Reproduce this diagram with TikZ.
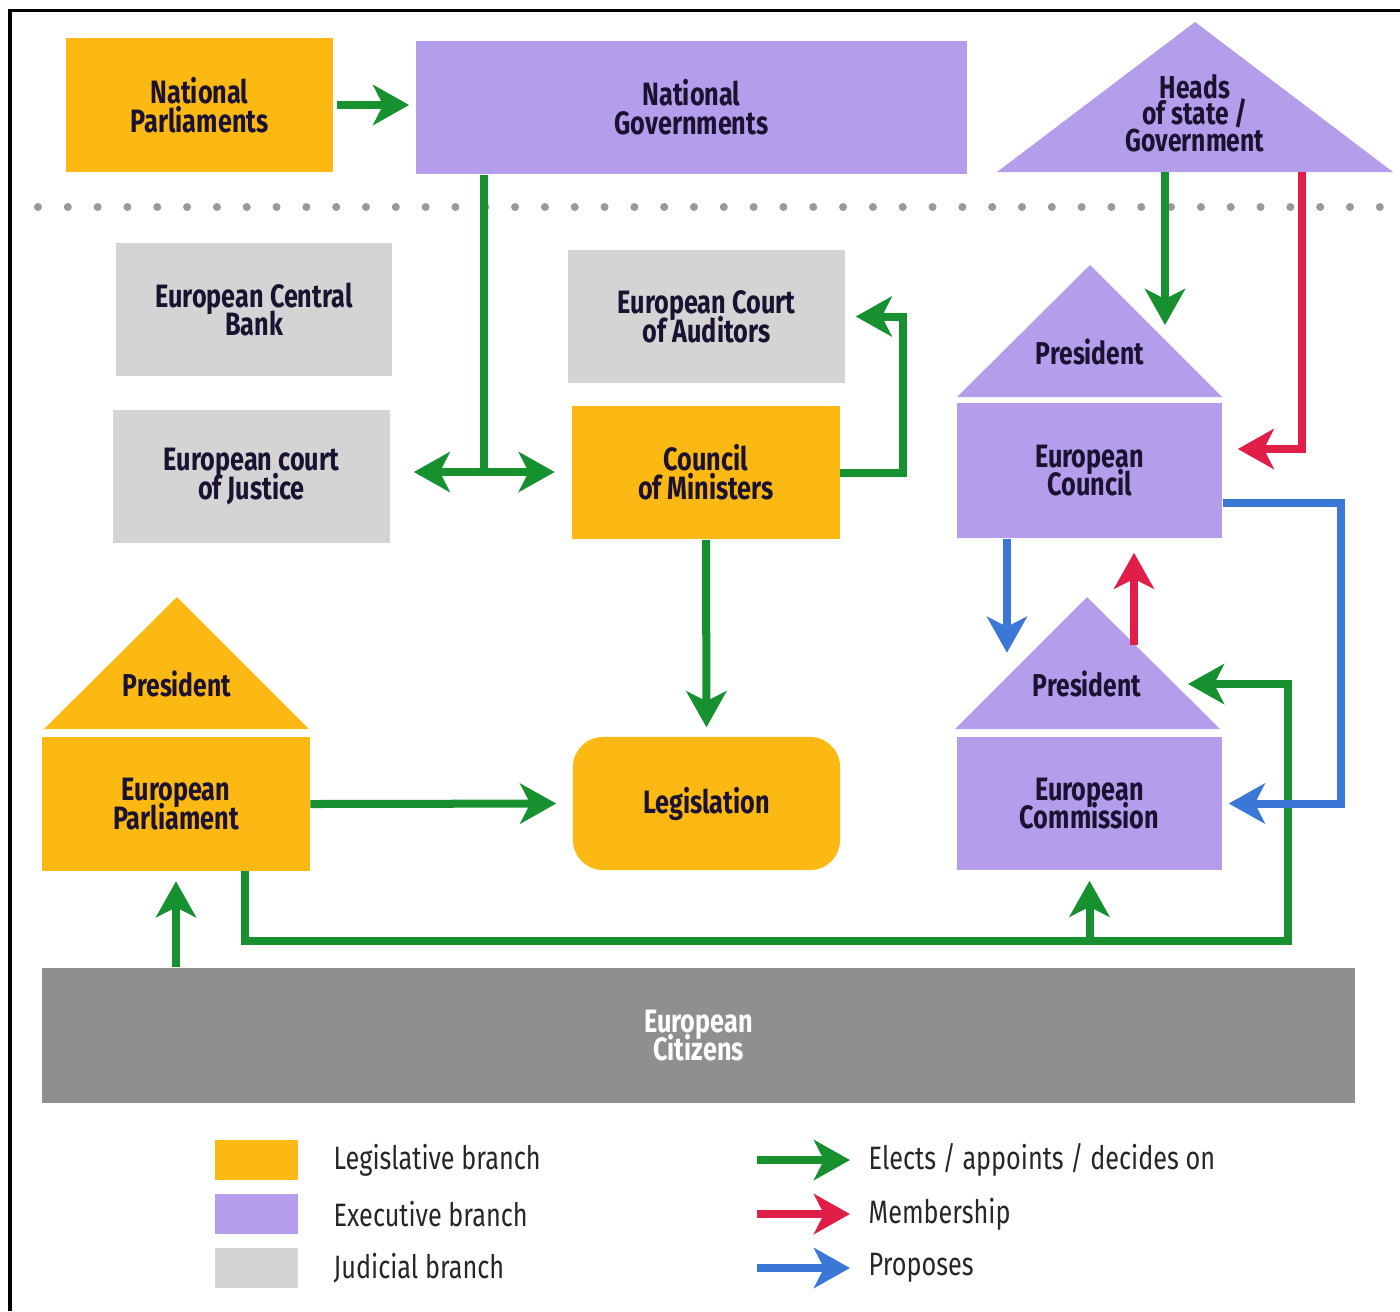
\documentclass[tikz,border=0pt]{standalone}
\usepackage{fontspec}
\setmainfont{Fira Sans}[FakeStretch=0.78]
\usepackage{xcolor}
\usepackage{tikz}
\usetikzlibrary{arrows.meta}
\definecolor{legisorange}{HTML}{FDB913}
\definecolor{execpurple}{HTML}{B49DEB}
\definecolor{judicgray}{HTML}{D4D4D4}
\definecolor{citizengray}{HTML}{8F8F8F}
\definecolor{electgreen}{HTML}{17902F}
\definecolor{memberred}{HTML}{E01E48}
\definecolor{proposeblue}{HTML}{3B78D6}
\definecolor{boxtext}{HTML}{1A1230}
\newcommand\boxfont{\fontsize{9.2}{8.2}\selectfont\bfseries\lineskiplimit=-10pt\relax}
\newcommand\trifont{\fontsize{9}{7.6}\selectfont\bfseries\lineskiplimit=-10pt\relax}
\tikzstyle{box} = [rectangle, minimum width=2.67cm, minimum height=1.33cm, inner sep=0pt, align=center, text=boxtext, font=\boxfont]
\tikzstyle{legis} = [box, fill=legisorange]
\tikzstyle{exec} = [box, fill=execpurple]
\tikzstyle{judic} = [box, fill=judicgray]
\tikzstyle{tritext} = [inner sep=0pt, align=center, text=boxtext, font=\trifont]
\tikzstyle{keytext} = [inner sep=0pt, anchor=west, text=black!85, font=\fontsize{9.2}{11}\selectfont]
\tikzstyle{conn} = [line width=0.08cm, ->]
\tikzstyle{elect} = [conn, draw=electgreen]
\tikzstyle{member} = [conn, draw=memberred]
\tikzstyle{propose} = [conn, draw=proposeblue]

\begin{document}
\begin{tikzpicture}[x=0.01cm, y=-0.01cm, >={Stealth[length=0.36cm, width=0.4cm, inset=0.1cm]}]
   \useasboundingbox (0,0) rectangle (1400,1311);
   \draw [line width=0.03cm] (10,1311) -- (10,10) -- (1400,10);

   % national level
   \node (natparl) [legis] at (199.5,105) {National\\Parliaments};
   \node (natgov) [exec, minimum width=5.51cm] at (691.5,107.5) {National\\Governments};
   \fill [execpurple] (997,172) -- (1195,22) -- (1393,172) -- cycle;
   \node (heads) [tritext] at (1195,113) {Heads\\of state /\\Government};
   \draw [black!40, line width=0.08cm, line cap=round, dash pattern=on 0pt off 0.298cm] (38,207) -- (1380,207);

   % union level
   \node (ecb) [judic, minimum width=2.76cm] at (254,309.5) {European Central\\Bank};
   \node (ecj) [judic, minimum width=2.77cm] at (251.5,476.5) {European court\\of Justice};
   \node (auditors) [judic, minimum width=2.77cm] at (706.5,316.5) {European Court\\of Auditors};
   \node (council) [legis] at (706,472.5) {Council\\of Ministers};
   \node (legislation) [legis, rounded corners=0.3cm] at (706.5,803.5) {Legislation};
   \node (parliament) [legis] at (176,804) {European\\Parliament};
   \node (eucouncil) [exec, minimum width=2.65cm, minimum height=1.35cm] at (1089.5,470.5) {European\\Council};
   \node (commission) [exec, minimum width=2.65cm] at (1089.5,803.5) {European\\Commission};
   \node (citizens) [box, fill=citizengray, text=white, minimum width=13.13cm, minimum height=1.35cm] at (698.5,1035.5) {European\\Citizens};

   % presidents
   \fill [execpurple] (957,397) -- (1090,265) -- (1222,397) -- cycle;
   \node (cpres) [tritext] at (1090,352) {President};
   \fill [execpurple] (955,729) -- (1087,597) -- (1220,729) -- cycle;
   \node (compres) [tritext] at (1087,684) {President};
   \fill [legisorange] (44,729) -- (177,597) -- (309,729) -- cycle;
   \node (eppres) [tritext] at (177,684) {President};

   \coordinate (heads-g) at (1165,172);
   \coordinate (heads-r) at (1302,172);
   \coordinate (cpres-e) at (1165,325);
   \coordinate (compres-e) at (1188,684);
   \coordinate (compres-ne) at (1134,645);
   \coordinate (split) at (484,472);
   \coordinate (bus) at (1288,941);

   % elects / appoints
   \draw [elect, shorten <=0.03cm, shorten >=0.06cm] (natparl.east) -- (natparl.east -| natgov.west);
   \draw [electgreen, line width=0.08cm] (natgov.south -| split) -- (split);
   \draw [elect, <->, shorten <=0.23cm, shorten >=0.17cm] (ecj.east |- split) -- (council.west |- split);
   \draw [elect] (council.east) -- ++(63,0) |- ([xshift=0.1cm]auditors.east);
   \draw [elect, shorten >=0.09cm] (council.south) -- (legislation.north);
   \draw [elect, shorten >=0.16cm] (parliament.east) -- (legislation.west);
   \draw [elect, shorten >=0.1cm] (citizens.north -| parliament.south) -- (parliament.south);
   \draw [elect] ([xshift=0.69cm]parliament.south) |- (bus) |- (compres-e);
   \draw [elect, shorten >=0.1cm] (commission.south |- bus) -- (commission.south);
   \draw [elect] (heads-g) -- (cpres-e);

   % membership
   \draw [member, shorten >=0.15cm] (heads-r) |- ([yshift=0.215cm]eucouncil.east);
   \draw [member, shorten >=0.14cm] (compres-ne) -- (compres-ne |- eucouncil.south);

   % proposes
   \draw [propose] ([xshift=-0.825cm]eucouncil.south) -- ++(0,114);
   \draw [propose, shorten >=0.06cm] ([yshift=-0.325cm]eucouncil.east) -- ++(118,0) |- (commission.east);

   % legend
   \foreach \y/\col in {1160/legisorange, 1214/execpurple, 1268/judicgray}
      \node (key\y) [fill=\col, minimum width=0.83cm, minimum height=0.4cm, inner sep=0pt] at (256.5,\y) {};
   \node (keylegis) [keytext] at (333,1160) {Legislative branch};
   \node (keyexec) [keytext] at (333,1214) {Executive branch};
   \node (keyjudic) [keytext] at (333,1268) {Judicial branch};
   \node (keyelect) [keytext] at (868,1160) {Elects / appoints / decides on};
   \node (keymember) [keytext] at (868,1214) {Membership};
   \node (keypropose) [keytext] at (868,1268) {Proposes};
   \coordinate (startelect) at (757,1160);
   \coordinate (startmember) at (757,1214);
   \coordinate (startpropose) at (757,1268);
   \draw [elect, shorten >=0.18cm] (startelect) -- (keyelect.west);
   \draw [member, shorten >=0.18cm] (startmember) -- (keymember.west);
   \draw [propose, shorten >=0.18cm] (startpropose) -- (keypropose.west);
\end{tikzpicture}
\end{document}
